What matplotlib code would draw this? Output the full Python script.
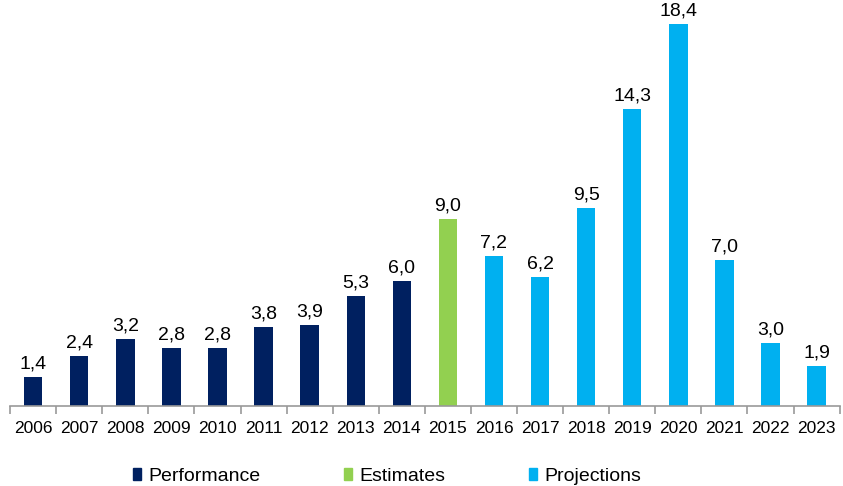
import matplotlib.pyplot as plt
from matplotlib.patches import Patch

years = [str(y) for y in range(2006, 2024)]
values = [1.4, 2.4, 3.2, 2.8, 2.8, 3.8, 3.9, 5.3, 6.0, 9.0,
          7.2, 6.2, 9.5, 14.3, 18.4, 7.0, 3.0, 1.9]
kinds = ['Performance'] * 9 + ['Estimates'] + ['Projections'] * 8
colors = {'Performance': '#002060', 'Estimates': '#92D050', 'Projections': '#00B0F0'}

plt.rcParams['font.family'] = ['Liberation Sans', 'DejaVu Sans']

fig = plt.figure(figsize=(8.43, 4.86), dpi=100)
ax = fig.add_axes([0.012, 0.165, 0.984, 0.795])

x = list(range(len(years)))
bars = ax.bar(x, values, width=0.4, color=[colors[k] for k in kinds])

for xi, v in zip(x, values):
    ax.text(xi, v + 0.22, f'{v:.1f}'.replace('.', ','), ha='center', va='bottom',
            fontsize=14, color='black')

ax.set_xlim(-0.5, len(years) - 0.5)
ax.set_ylim(0, 18.6)
ax.set_yticks([])
for s in ['top', 'right', 'left']:
    ax.spines[s].set_visible(False)
ax.spines['bottom'].set_color('#999999')
ax.spines['bottom'].set_linewidth(1.2)

ax.set_xticks([i - 0.5 for i in range(len(years) + 1)])
ax.set_xticklabels([])
ax.tick_params(axis='x', length=6, color='#999999', width=1.2)
for xi, yr in zip(x, years):
    ax.text(xi, -0.75, yr, ha='center', va='top', fontsize=12.5,
            transform=ax.transData)

handles = [Patch(color=colors[k]) for k in ['Performance', 'Estimates', 'Projections']]
fig.legend(handles, ['Performance', 'Estimates', 'Projections'],
           loc='center', bbox_to_anchor=(0.459, 0.02), ncol=3, frameon=False,
           fontsize=14, handlelength=0.42, handleheight=0.58, handletextpad=0.36,
           columnspacing=4.3)

fig.savefig('out.png', dpi=100)
